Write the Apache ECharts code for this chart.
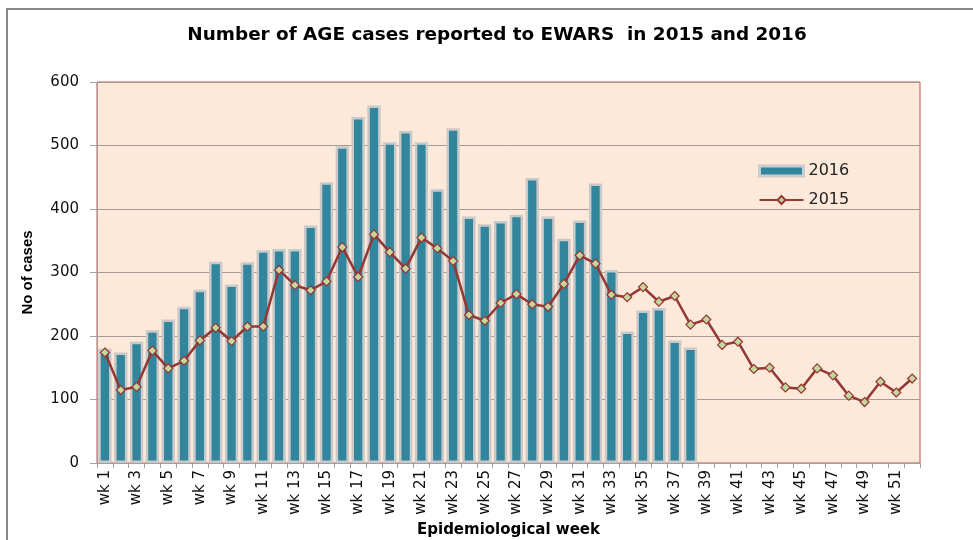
<!DOCTYPE html>
<html>
<head>
<meta charset="utf-8">
<script src="https://cdn.jsdelivr.net/npm/echarts@6/dist/echarts.min.js"></script>
<style>
html,body{margin:0;padding:0;background:#fff;}
#c{width:973px;height:540px;}
</style>
</head>
<body>
<div id="c"></div>
<script>
const weeks = ['wk 1','wk 2','wk 3','wk 4','wk 5','wk 6','wk 7','wk 8','wk 9','wk 10',
'wk 11','wk 12','wk 13','wk 14','wk 15','wk 16','wk 17','wk 18','wk 19','wk 20',
'wk 21','wk 22','wk 23','wk 24','wk 25','wk 26','wk 27','wk 28','wk 29','wk 30',
'wk 31','wk 32','wk 33','wk 34','wk 35','wk 36','wk 37','wk 38','wk 39','wk 40',
'wk 41','wk 42','wk 43','wk 44','wk 45','wk 46','wk 47','wk 48','wk 49','wk 50',
'wk 51','wk 52'];
const cases2016 = [180,174,191,209,226,246,273,317,281,316,335,337,337,374,442,499,545,563,505,523,
505,431,527,388,376,381,391,449,388,353,382,440,304,207,240,244,193,182];
const cases2015 = [174,115,120,177,149,161,193,213,192,215,215,304,280,272,286,340,293,360,332,306,
355,338,318,233,224,252,266,250,246,282,327,314,265,261,277,254,263,218,226,186,
191,148,150,119,117,149,138,106,96,128,111,133];
const yTicks = [0,100,200,300,400,500,600];

const chart = echarts.init(document.getElementById('c'), null, {renderer:'canvas'});
const tickFont = 'DejaVu Sans';
chart.setOption({
  animation:false,
  backgroundColor:'#ffffff',
  title:{
    text:'Number of AGE cases reported to EWARS  in 2015 and 2016',
    left:492, top:21, textAlign:'center',
    textStyle:{fontFamily:'DejaVu Sans',fontWeight:'bold',fontSize:18.4,color:'#000'}
  },
  graphic:[{
    type:'rect', silent:true, z:-1,
    shape:{x:7,y:9,width:1000,height:600},
    style:{fill:'none',stroke:'#888888',lineWidth:2}
  }],
  legend:{
    orient:'vertical', left:753, top:158, itemGap:13,
    itemWidth:44, itemHeight:10,
    textStyle:{fontFamily:tickFont,fontSize:16,color:'#222'},
    data:[
      {name:'2016', icon:'rect', itemStyle:{color:'#31859c',borderColor:'#cccccc',borderWidth:3}},
      {name:'2015'}
    ]
  },
  grid:{left:97,right:53,top:82,bottom:77,outerBoundsMode:'none',containLabel:false,
    show:true,backgroundColor:'#fde9d9',borderColor:'#c0504d',borderWidth:1},
  xAxis:{
    type:'category', data:weeks, boundaryGap:true,
    name:'Epidemiological week', nameLocation:'middle', nameGap:55,
    nameTextStyle:{fontFamily:'DejaVu Sans',fontWeight:'bold',fontSize:15,color:'#000'},
    axisLine:{show:true,lineStyle:{color:'#a0a0a0',width:1}},
    axisTick:{show:true,interval:0,length:5,lineStyle:{color:'#a0a0a0'}},
    axisLabel:{interval:1,rotate:90,fontFamily:tickFont,fontSize:15,color:'#111',margin:7},
    splitLine:{show:false}
  },
  yAxis:{
    type:'value', min:0, max:600, interval:100,
    name:'No of cases', nameLocation:'middle', nameGap:62,
    nameTextStyle:{fontFamily:'Liberation Sans',fontWeight:'bold',fontSize:15,color:'#000'},
    axisLine:{show:true,lineStyle:{color:'#a0a0a0',width:1}},
    axisTick:{show:true,length:7,lineStyle:{color:'#a0a0a0'}},
    axisLabel:{fontFamily:tickFont,fontSize:15,color:'#111',margin:18,
      formatter:function(v){return yTicks.indexOf(v)>=0?String(v):'';}},
    splitLine:{show:true,lineStyle:{color:'#a69a94',width:1}}
  },
  series:[
    {
      name:'2016', type:'bar', data:cases2016, barWidth:'84%',
      itemStyle:{color:'#31859c',borderColor:'#c9c9c9',borderWidth:2.5},
      z:2
    },
    {
      name:'2015', type:'line', data:cases2015,
      symbol:'diamond', symbolSize:9,
      lineStyle:{color:'#953735',width:2.5},
      itemStyle:{color:'#c3d69b',borderColor:'#953735',borderWidth:1.2},
      z:3
    }
  ]
});
</script>
</body>
</html>
